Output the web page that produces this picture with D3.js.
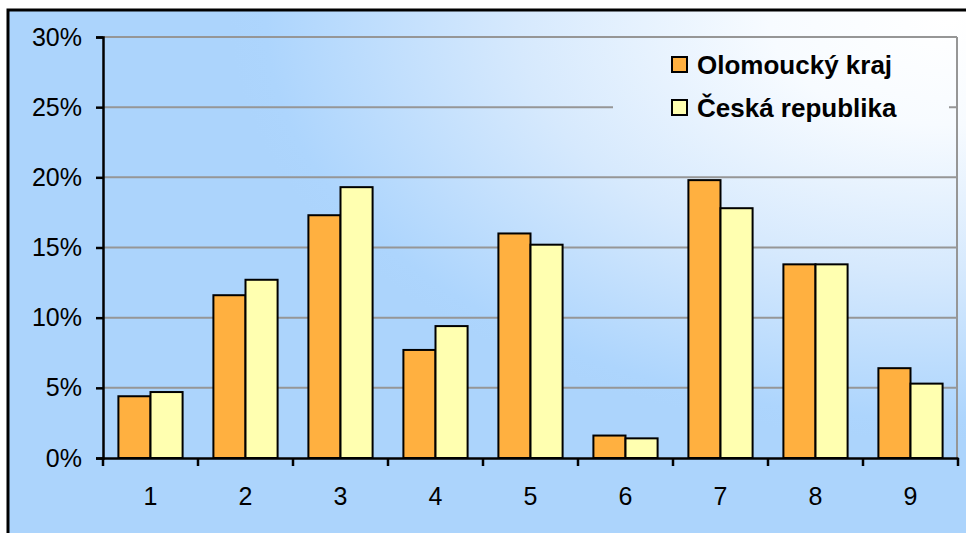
<!DOCTYPE html>
<html lang="cs">
<head>
    <meta charset="UTF-8">
    <title>Olomoucký kraj</title>
    <script src="https://d3js.org/d3.v7.min.js"></script>
    <style>
        body { margin: 0; background: #fff; }
        svg text { font-family: "Liberation Sans", Arial, sans-serif; }
    </style>
</head>
<body>
    <div id="chart"></div>
    <script>
        // data
        const categories = ["1", "2", "3", "4", "5", "6", "7", "8", "9"];
        const seriesNames = ["Olomoucký kraj", "Česká republika"];
        const olomoucky = [4.4, 11.6, 17.3, 7.7, 16.0, 1.6, 19.8, 13.8, 6.4];
        const cr = [4.7, 12.7, 19.3, 9.4, 15.2, 1.4, 17.8, 13.8, 5.3];
        const yTicks = [0, 5, 10, 15, 20, 25, 30];
        const colors = ["#ffb040", "#ffffb0"];

        const width = 966, height = 533;
        const plot = { left: 103, right: 957, top: 37, bottom: 458 };

        const svg = d3.select("#chart").append("svg")
            .attr("width", width)
            .attr("height", height);

        // background gradient (white in the top right corner)
        const defs = svg.append("defs");
        const grad = defs.append("radialGradient")
            .attr("id", "bg")
            .attr("gradientUnits", "userSpaceOnUse")
            .attr("cx", 0).attr("cy", 0).attr("r", 1)
            .attr("gradientTransform", "translate(950,20) scale(720,420)");
        grad.append("stop").attr("offset", "0").attr("stop-color", "#ffffff");
        grad.append("stop").attr("offset", "0.25").attr("stop-color", "#f7fbff");
        grad.append("stop").attr("offset", "0.6").attr("stop-color", "#d6e9fd");
        grad.append("stop").attr("offset", "0.95").attr("stop-color", "#add5fd");
        grad.append("stop").attr("offset", "1").attr("stop-color", "#acd4fc");

        svg.append("rect")
            .attr("x", 8).attr("y", 10)
            .attr("width", width + 10).attr("height", height + 10)
            .attr("fill", "url(#bg)")
            .attr("stroke", "#000")
            .attr("stroke-width", 3);

        const x = d3.scaleBand()
            .domain(categories)
            .range([plot.left, plot.right + 1]);

        const xSeries = d3.scaleBand()
            .domain(seriesNames)
            .range([0, x.bandwidth()])
            .paddingInner(0)
            .paddingOuter(0.48);

        const y = d3.scaleLinear()
            .domain([0, 30])
            .range([plot.bottom, plot.top]);

        // gridlines
        svg.append("g")
            .selectAll("line")
            .data(yTicks.filter(d => d > 0))
            .join("line")
            .attr("x1", plot.left)
            .attr("x2", plot.right)
            .attr("y1", d => y(d))
            .attr("y2", d => y(d))
            .attr("stroke", "#969696")
            .attr("stroke-width", 2);

        // right border of the plot area
        svg.append("line")
            .attr("x1", plot.right).attr("x2", plot.right)
            .attr("y1", plot.top).attr("y2", plot.bottom)
            .attr("stroke", "#969696")
            .attr("stroke-width", 2);

        // legend box hides part of the gridline
        svg.append("rect")
            .attr("x", 613).attr("y", 45)
            .attr("width", 336).attr("height", 88)
            .attr("fill", "url(#bg)");

        // bars
        const series = [olomoucky, cr];
        const groups = svg.append("g")
            .selectAll("g")
            .data(categories)
            .join("g")
            .attr("transform", d => `translate(${x(d)},0)`);

        groups.selectAll("rect")
            .data((d, i) => seriesNames.map((s, j) => ({ s: s, v: series[j][i], j: j })))
            .join("rect")
            .attr("x", d => xSeries(d.s))
            .attr("y", d => y(d.v))
            .attr("width", xSeries.bandwidth())
            .attr("height", d => y(0) - y(d.v))
            .attr("fill", d => colors[d.j])
            .attr("stroke", "#000")
            .attr("stroke-width", 2);

        // y axis
        const yAxis = svg.append("g")
            .attr("transform", `translate(${plot.left},0)`)
            .call(d3.axisLeft(y)
                .tickValues(yTicks)
                .tickSize(7)
                .tickPadding(14)
                .tickFormat(d => d + "%"));
        yAxis.select(".domain").attr("stroke", "#000").attr("stroke-width", 2.5);
        yAxis.selectAll(".tick line").attr("stroke", "#000").attr("stroke-width", 2.5);
        yAxis.selectAll("text")
            .attr("font-size", 25)
            .attr("fill", "#000");

        // x axis
        const xAxis = svg.append("g")
            .attr("transform", `translate(0,${plot.bottom})`)
            .call(d3.axisBottom(x).tickSize(0).tickPadding(29));
        xAxis.select(".domain").attr("stroke", "#000").attr("stroke-width", 2.5);
        xAxis.selectAll("text")
            .attr("font-size", 25)
            .attr("fill", "#000");

        // x tick marks between categories
        svg.append("g")
            .selectAll("line")
            .data(categories.concat(["end"]))
            .join("line")
            .attr("x1", (d, i) => i < categories.length ? x(d) : plot.right + 1)
            .attr("x2", (d, i) => i < categories.length ? x(d) : plot.right + 1)
            .attr("y1", plot.bottom)
            .attr("y2", plot.bottom + 8)
            .attr("stroke", "#000")
            .attr("stroke-width", 2.5);

        // legend
        const legend = svg.append("g")
            .attr("transform", "translate(672,57)");
        const item = legend.selectAll("g")
            .data(seriesNames)
            .join("g")
            .attr("transform", (d, i) => `translate(0,${i * 43})`);
        item.append("rect")
            .attr("width", 15).attr("height", 15)
            .attr("fill", (d, i) => colors[i])
            .attr("stroke", "#000")
            .attr("stroke-width", 2);
        item.append("text")
            .attr("x", 25)
            .attr("y", 8)
            .attr("dy", "0.36em")
            .attr("font-size", 26)
            .attr("font-weight", "bold")
            .attr("fill", "#000")
            .text(d => d);
    </script>
</body>
</html>
